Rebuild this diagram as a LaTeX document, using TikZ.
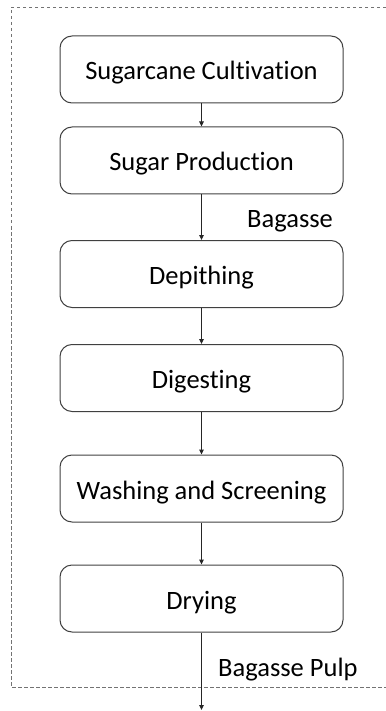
\documentclass[tikz,border=0pt]{standalone}
\usepackage{fontspec}
\setmainfont{Carlito}[Ligatures={NoCommon}]
\usetikzlibrary{arrows.meta}
\begin{document}
\begin{tikzpicture}[x=1pt,y=-1pt,
  stepbox/.style={draw=black!75, line width=1pt, rounded corners=12pt,
    minimum width=283pt, minimum height=67pt, inner sep=0pt,
    text height=22pt, text depth=1pt,
    font=\fontsize{26.5}{31}\selectfont},
  flow/.style={draw=black!85, line width=1pt, -{Triangle[length=5pt,width=4.5pt]}},
  lbl/.style={inner sep=0pt, anchor=base west, font=\fontsize{26.5}{31}\selectfont},
  boundary/.style={draw=black!55, line width=0.9pt, dash pattern=on 3.5pt off 2.5pt}]
\useasboundingbox (0,0) rectangle (385,711);
% system boundary, open on the right
\draw[boundary] (386,7) -- (11,7) -- (11,687) -- (386,687);
% process steps
\node[stepbox] (cult) at (201.5,69.5) {Sugarcane Cultivation};
\node[stepbox] (sugar) at (201.5,160.5) {Sugar Production};
\node[stepbox] (depith) at (201.5,274) {Depithing};
\node[stepbox] (digest) at (201.5,378) {Digesting};
\node[stepbox] (wash) at (201.5,488.5) {Washing and Screening};
\node[stepbox] (dry) at (201.5,598.5) {Drying};
\coordinate (out) at (201.5,710);
% flows
\draw[flow] (cult) -- (sugar);
\draw[flow] (sugar) -- (depith);
\draw[flow] (depith) -- (digest);
\draw[flow] (digest) -- (wash);
\draw[flow] (wash) -- (dry);
\draw[flow] (dry) -- (out);
% stream labels
\node[lbl] (bag) at (247,227) {Bagasse};
\node[lbl] (pulp) at (218,676) {Bagasse Pulp};
\end{tikzpicture}
\end{document}
